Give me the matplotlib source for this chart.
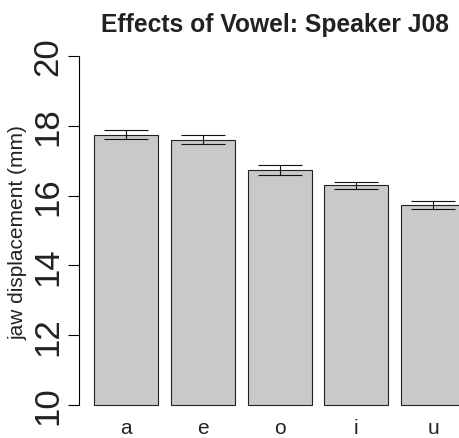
import matplotlib
matplotlib.use('Agg')
import matplotlib.pyplot as plt
import numpy as np

plt.rcParams['font.family'] = ['Liberation Sans', 'DejaVu Sans']

vowels = ['a', 'e', 'o', 'i', 'u']
means = [17.75, 17.60, 16.74, 16.29, 15.73]
errs = [0.13, 0.125, 0.15, 0.11, 0.105]
yticks = [10, 12, 14, 16, 18, 20]

fig = plt.figure(figsize=(4.6, 4.39), dpi=100)
# plot region like R: runs past the right edge of the image
ax = fig.add_axes([79.3 / 460, 19 / 439, 400.7 / 460, 377 / 439])

x = 0.7 + 1.2 * np.arange(len(vowels))
heights = np.array(means) - 10
ax.bar(x, heights, width=1.0, bottom=10, color='#c8c9cb', edgecolor='#222222', linewidth=0.8)
ax.errorbar(x, means, yerr=errs, fmt='none', ecolor='#111111', elinewidth=0.8, capsize=15.5, capthick=0.8)

ax.set_xlim(-0.032, 6.232)
ax.set_ylim(9.6, 20.4)

for s in ['top', 'right', 'bottom']:
    ax.spines[s].set_visible(False)
ax.spines['left'].set_bounds(10, 20)
ax.spines['left'].set_linewidth(0.8)

ax.set_yticks(yticks)
ax.set_yticklabels([str(t) for t in yticks], rotation=90, va='center', fontsize=25, color='#222222')
ax.tick_params(axis='y', length=8, width=0.8, pad=3)

ax.set_xticks(x)
ax.set_xticklabels(vowels, fontsize=15, color='#222222')
ax.tick_params(axis='x', length=0, pad=-1)

ax.set_ylabel('jaw displacement (mm)', fontsize=15, color='#222222')
ax.yaxis.set_label_coords(-0.128, 0.497)

fig.text(275 / 460, 1 - 25 / 439, 'Effects of Vowel: Speaker J08', ha='center', va='center',
         fontsize=17.7, fontweight='bold', color='#222222')

fig.savefig('out.png', dpi=100)
